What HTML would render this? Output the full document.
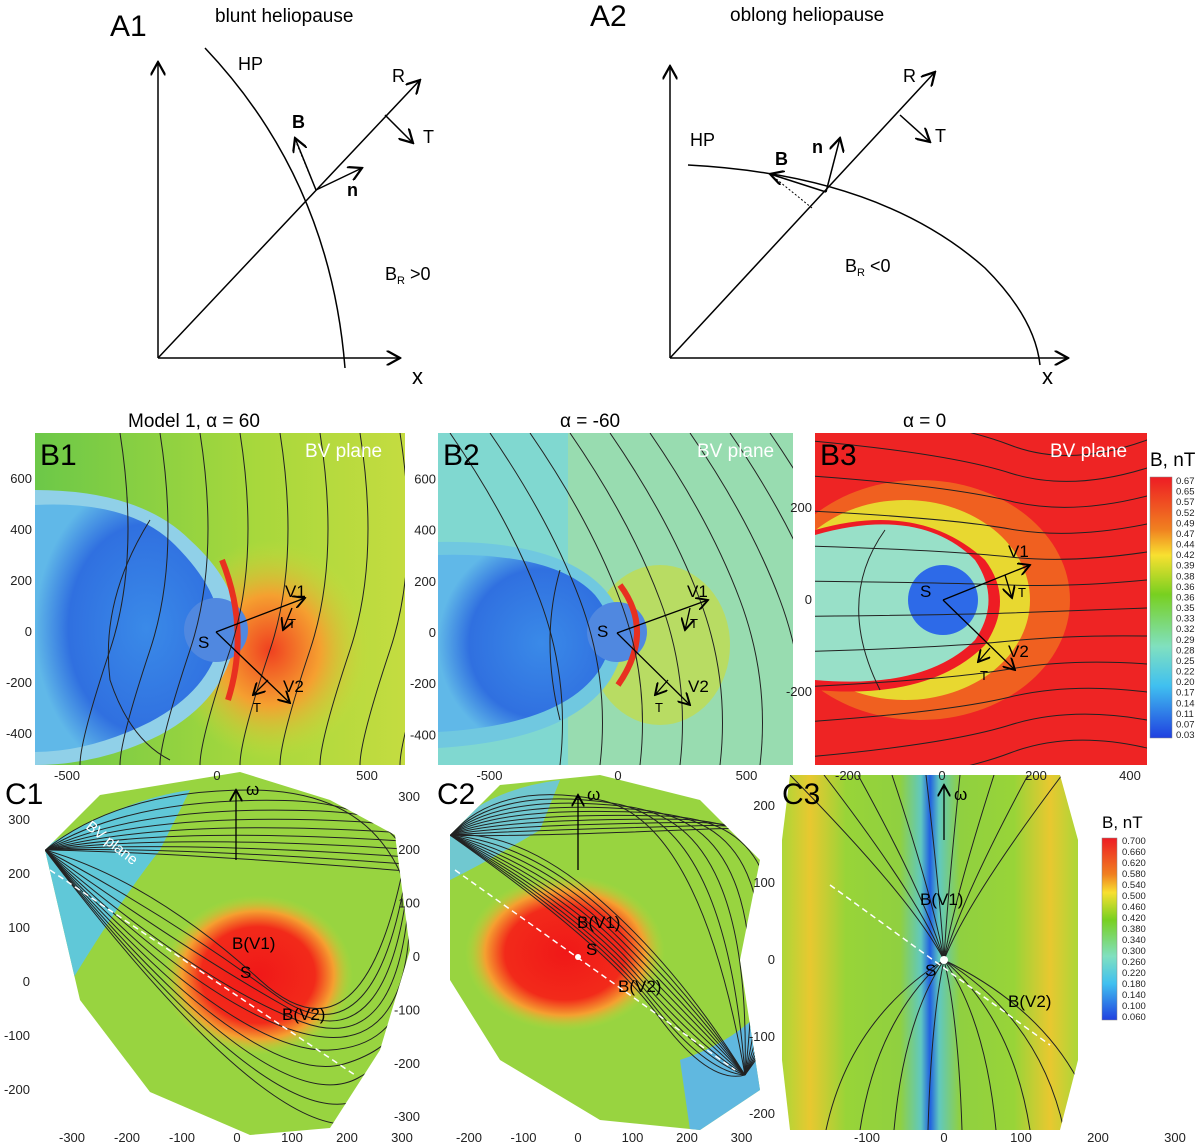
<!DOCTYPE html>
<html><head><meta charset="utf-8"><style>
html,body{margin:0;padding:0;background:#fff;width:1200px;height:1148px;overflow:hidden}
svg{display:block;font-family:"Liberation Sans",sans-serif}
</style></head><body>
<svg id="fig" width="1200" height="1148" viewBox="0 0 1200 1148" xmlns="http://www.w3.org/2000/svg">
<defs>
<marker id="ah" markerWidth="10" markerHeight="10" refX="9" refY="5" orient="auto"><path d="M0,0 L9,5 L0,10" fill="none" stroke="#000" stroke-width="1.5"/></marker>
<radialGradient id="b1hot" cx="0.5" cy="0.5" r="0.5"><stop offset="0" stop-color="#f04020"/><stop offset="0.5" stop-color="#f5a030"/><stop offset="1" stop-color="#c8dc3a" stop-opacity="0"/></radialGradient>
<radialGradient id="cred" cx="0.5" cy="0.5" r="0.5"><stop offset="0" stop-color="#f01818"/><stop offset="0.6" stop-color="#f22a1a"/><stop offset="0.8" stop-color="#f5a030"/><stop offset="1" stop-color="#b8d838" stop-opacity="0"/></radialGradient>
<linearGradient id="b1bg" x1="0" y1="0" x2="1" y2="0"><stop offset="0" stop-color="#6cc848"/><stop offset="0.6" stop-color="#a8d83c"/><stop offset="1" stop-color="#c4dc40"/></linearGradient>
<radialGradient id="blueblob" cx="0.6" cy="0.5" r="0.6"><stop offset="0" stop-color="#3a8ae8"/><stop offset="0.7" stop-color="#3070e0"/><stop offset="1" stop-color="#60b8e8"/></radialGradient>
<linearGradient id="cbar1" x1="0" y1="0" x2="0" y2="1"><stop offset="0" stop-color="#ee1c24"/><stop offset="0.2" stop-color="#f08020"/><stop offset="0.3" stop-color="#f8e030"/><stop offset="0.45" stop-color="#78d020"/><stop offset="0.65" stop-color="#80e0c0"/><stop offset="0.8" stop-color="#40c0f0"/><stop offset="1" stop-color="#2040e0"/></linearGradient>
<linearGradient id="c3bg" x1="0" y1="0" x2="1" y2="0"><stop offset="0" stop-color="#a8d838"/><stop offset="0.1" stop-color="#e8c830"/><stop offset="0.22" stop-color="#98d438"/><stop offset="0.4" stop-color="#90d040"/><stop offset="0.47" stop-color="#60c8c0"/><stop offset="0.5" stop-color="#2060e0"/><stop offset="0.53" stop-color="#60c8c0"/><stop offset="0.6" stop-color="#90d040"/><stop offset="0.78" stop-color="#98d438"/><stop offset="0.9" stop-color="#e8c830"/><stop offset="1" stop-color="#a8d838"/></linearGradient>
<clipPath id="cb1"><rect x="35" y="433" width="370" height="332"/></clipPath>
<clipPath id="cb2"><rect x="438" y="433" width="355" height="332"/></clipPath>
<clipPath id="cb3"><rect x="815" y="433" width="332" height="332"/></clipPath>
<clipPath id="cc1"><path d="M45,850 L100,795 L240,772 L330,800 L395,835 L410,950 L380,1050 L330,1128 L250,1135 L150,1092 L80,1000 Z"/></clipPath>
<clipPath id="cc2"><path d="M450,835 L500,785 L600,775 L700,800 L760,860 L740,960 L760,1090 L700,1130 L600,1120 L500,1060 L450,980 Z"/></clipPath>
<clipPath id="cc3"><path d="M790,775 L1060,775 L1078,840 L1078,1060 L1060,1130 L790,1130 L782,1060 L782,840 Z"/></clipPath>
</defs>

<g fill="none" stroke="#000" stroke-width="1.5">
<line x1="158" y1="358" x2="158" y2="62" marker-end="url(#ah)"/>
<line x1="158" y1="358" x2="400" y2="358" marker-end="url(#ah)"/>
<path d="M205,48 Q330,180 345,368"/>
<line x1="158" y1="358" x2="420" y2="80" marker-end="url(#ah)"/>
<line x1="385" y1="115" x2="413" y2="143" marker-end="url(#ah)"/>
<line x1="316" y1="190" x2="295" y2="138" marker-end="url(#ah)"/>
<line x1="316" y1="190" x2="362" y2="168" marker-end="url(#ah)"/>
<line x1="316" y1="190" x2="296" y2="142" stroke-dasharray="2,2" stroke-width="1"/>
</g>
<g font-size="18">
<text x="110" y="36" font-size="30">A1</text>
<text x="215" y="22" font-size="19">blunt heliopause</text>
<text x="238" y="70">HP</text><text x="392" y="82">R</text><text x="423" y="143">T</text>
<text x="292" y="128" font-weight="bold">B</text><text x="347" y="196" font-weight="bold">n</text>
<text x="385" y="280">B<tspan font-size="11" dy="4">R</tspan><tspan dy="-4"> &gt;0</tspan></text>
<text x="412" y="384" font-size="22">x</text>
</g>
<g fill="none" stroke="#000" stroke-width="1.5">
<line x1="670" y1="358" x2="670" y2="66" marker-end="url(#ah)"/>
<line x1="670" y1="358" x2="1068" y2="358" marker-end="url(#ah)"/>
<path d="M688,165 Q880,175 985,268 Q1035,318 1040,365"/>
<line x1="670" y1="358" x2="935" y2="72" marker-end="url(#ah)"/>
<line x1="900" y1="115" x2="930" y2="142" marker-end="url(#ah)"/>
<line x1="826" y1="192" x2="840" y2="138" marker-end="url(#ah)"/>
<line x1="826" y1="192" x2="770" y2="174" marker-end="url(#ah)"/>
<line x1="812" y1="208" x2="775" y2="178" stroke-dasharray="2,2" stroke-width="1"/>
</g>
<g font-size="18">
<text x="590" y="26" font-size="30">A2</text>
<text x="730" y="21" font-size="19">oblong heliopause</text>
<text x="690" y="146">HP</text><text x="903" y="82">R</text><text x="935" y="142">T</text>
<text x="775" y="165" font-weight="bold">B</text><text x="812" y="153" font-weight="bold">n</text>
<text x="845" y="272">B<tspan font-size="11" dy="4">R</tspan><tspan dy="-4"> &lt;0</tspan></text>
<text x="1042" y="384" font-size="22">x</text>
</g>

<g clip-path="url(#cb1)">
<rect x="35" y="433" width="370" height="332" fill="url(#b1bg)"/>
<ellipse cx="270" cy="650" rx="100" ry="110" fill="url(#b1hot)"/>
<path d="M35,490 Q140,490 190,540 Q245,590 235,640 Q225,700 160,735 Q100,765 35,765 Z" fill="#90d0e8"/>
<path d="M35,505 Q130,500 175,545 Q225,595 220,640 Q210,690 150,722 Q90,752 35,752 Z" fill="url(#blueblob)"/>
<circle cx="216" cy="630" r="32" fill="#5088e0"/>
<path d="M222,560 Q250,630 228,700" stroke="#e83020" stroke-width="6" fill="none"/>
</g>
<g clip-path="url(#cb2)">
<rect x="438" y="433" width="355" height="332" fill="#98dcb0"/>
<rect x="438" y="433" width="130" height="332" fill="#80d8d0"/>
<ellipse cx="660" cy="645" rx="70" ry="80" fill="#c0dc50" opacity="0.8"/>
<path d="M438,542 Q560,540 605,590 Q640,630 610,680 Q570,740 438,748 Z" fill="#70c8e0"/>
<path d="M438,555 Q555,552 595,595 Q625,632 598,672 Q560,725 438,732 Z" fill="url(#blueblob)"/>
<circle cx="617" cy="632" r="30" fill="#5088e0"/>
<path d="M620,585 Q655,632 618,685" stroke="#e83020" stroke-width="6" fill="none"/>
</g>
<g clip-path="url(#cb3)">
<rect x="815" y="433" width="332" height="332" fill="#ee2424"/>
<ellipse cx="920" cy="600" rx="150" ry="120" fill="#f06020"/>
<ellipse cx="905" cy="600" rx="125" ry="100" fill="#e8d830"/>
<path d="M815,530 Q920,500 985,560 Q1015,600 985,645 Q930,700 815,690 Z" fill="#ee1c24"/>
<path d="M815,535 Q920,505 975,560 Q1002,600 975,640 Q925,690 815,680 Z" fill="#98e0c8"/>
<circle cx="943" cy="600" r="35" fill="#2d6ae8"/>
</g>
<g>
<rect x="1150" y="477" width="22" height="261" fill="url(#cbar1)" stroke="#888" stroke-width="0.5"/>
<text x="1150" y="466" font-size="19">B, nT</text>
<g id="cbB" font-size="9.5" fill="#222"></g>
</g>

<g clip-path="url(#cc1)">
<rect x="35" y="760" width="380" height="380" fill="#98d440"/>
<path d="M40,850 Q120,800 190,790 L160,850 Q120,900 60,1000 Z" fill="#60c8d8"/>
<ellipse cx="258" cy="975" rx="95" ry="80" fill="url(#cred)"/>
</g>
<g clip-path="url(#cc2)">
<rect x="430" y="760" width="340" height="380" fill="#98d440"/>
<path d="M440,840 Q480,790 560,780 L540,830 Q490,860 450,880 Z" fill="#70c8d0"/>
<path d="M680,1060 Q740,1040 770,1000 L770,1140 L690,1130 Z" fill="#60b8e0"/>
<ellipse cx="565" cy="953" rx="100" ry="78" fill="url(#cred)"/>
</g>
<g clip-path="url(#cc3)">
<rect x="780" y="770" width="300" height="365" fill="url(#c3bg)"/>
</g>
<g>
<rect x="1102" y="838" width="15" height="182" fill="url(#cbar1)" stroke="#888" stroke-width="0.5"/>
<text x="1102" y="828" font-size="17">B, nT</text>
<g id="cbC" font-size="9.5" fill="#222"></g>
</g>

<g id="stream" fill="none" stroke="#222" stroke-width="1"></g>
<g id="axes" font-size="13" fill="#222"></g>

<g font-size="30">
<text x="40" y="465">B1</text><text x="443" y="465">B2</text><text x="820" y="465">B3</text>
<text x="5" y="804">C1</text><text x="437" y="804">C2</text><text x="782" y="804">C3</text>
</g>
<g font-size="19">
<text x="128" y="427">Model 1, α = 60</text><text x="560" y="427">α = -60</text><text x="903" y="427">α = 0</text>
<text x="305" y="457" fill="#fff">BV plane</text><text x="697" y="457" fill="#fff">BV plane</text><text x="1050" y="457" fill="#fff">BV plane</text>
</g>
<g fill="none" stroke="#000" stroke-width="1.3">
<line x1="216" y1="632" x2="305" y2="598" marker-end="url(#ah)"/><line x1="216" y1="632" x2="290" y2="703" marker-end="url(#ah)"/>
<line x1="292" y1="608" x2="283" y2="630" marker-end="url(#ah)"/><line x1="268" y1="680" x2="253" y2="695" marker-end="url(#ah)"/>
<line x1="617" y1="633" x2="708" y2="600" marker-end="url(#ah)"/><line x1="617" y1="633" x2="690" y2="705" marker-end="url(#ah)"/>
<line x1="690" y1="608" x2="685" y2="630" marker-end="url(#ah)"/><line x1="668" y1="680" x2="655" y2="695" marker-end="url(#ah)"/>
<line x1="943" y1="600" x2="1030" y2="565" marker-end="url(#ah)"/><line x1="943" y1="600" x2="1015" y2="670" marker-end="url(#ah)"/>
<line x1="1005" y1="575" x2="1012" y2="598" marker-end="url(#ah)"/><line x1="990" y1="648" x2="978" y2="662" marker-end="url(#ah)"/>
<line x1="236" y1="860" x2="236" y2="790" marker-end="url(#ah)"/><line x1="578" y1="870" x2="578" y2="795" marker-end="url(#ah)"/><line x1="944" y1="840" x2="944" y2="785" marker-end="url(#ah)"/>
</g>
<g font-size="17">
<text x="198" y="648">S</text><text x="285" y="597">V1</text><text x="283" y="692">V2</text><text x="288" y="628" font-size="13">T</text><text x="253" y="712" font-size="13">T</text>
<text x="597" y="637">S</text><text x="687" y="597">V1</text><text x="688" y="692">V2</text><text x="690" y="628" font-size="13">T</text><text x="655" y="712" font-size="13">T</text>
<text x="920" y="597">S</text><text x="1008" y="557">V1</text><text x="1008" y="657">V2</text><text x="1018" y="597" font-size="13">T</text><text x="980" y="680" font-size="13">T</text>
<text x="246" y="795">ω</text><text x="587" y="800">ω</text><text x="954" y="800">ω</text>
<text x="232" y="949">B(V1)</text><text x="240" y="978">S</text><text x="282" y="1020">B(V2)</text>
<text x="577" y="928">B(V1)</text><text x="586" y="955">S</text><text x="618" y="992">B(V2)</text>
<text x="920" y="905">B(V1)</text><text x="925" y="976">S</text><text x="1008" y="1007">B(V2)</text>
<text x="85" y="828" fill="#fff" font-size="15" transform="rotate(38 85 828)">BV plane</text>
</g>
<g stroke="#fff" stroke-width="1.5" stroke-dasharray="6,4" fill="none">
<line x1="50" y1="870" x2="355" y2="1075"/><line x1="455" y1="870" x2="735" y2="1070"/><line x1="830" y1="885" x2="1050" y2="1045"/>
</g>
<circle cx="578" cy="957" r="3" fill="#fff"/><circle cx="944" cy="960" r="4" fill="#fff"/>

<script>
const cbBLabels=["0.67","0.65","0.57","0.52","0.49","0.47","0.44","0.42","0.39","0.38","0.36","0.36","0.35","0.33","0.32","0.29","0.28","0.25","0.22","0.20","0.17","0.14","0.11","0.07","0.03"];
const cbCLabels=["0.700","0.660","0.620","0.580","0.540","0.500","0.460","0.420","0.380","0.340","0.300","0.260","0.220","0.180","0.140","0.100","0.060"];
const b1X=[-500,0,500], b1Y=[600,400,200,0,-200,-400];
const b2X=[-500,0,500], b2Y=[600,400,200,0,-200,-400];
const b3X=[-200,0,200,400], b3Y=[200,0,-200];
const c1X=[-300,-200,-100,0,100,200,300], c1Y=[300,200,100,0,-100,-200];
const c2X=[-200,-100,0,100,200,300], c2Y=[300,200,100,0,-100,-200,-300];
const c3X=[-100,0,100,200,300], c3Y=[200,100,0,-100,-200];
const NS="http://www.w3.org/2000/svg";
function mk(tag,attrs,parent){const e=document.createElementNS(NS,tag);for(const k in attrs)e.setAttribute(k,attrs[k]);parent.appendChild(e);return e;}
const cbB=document.getElementById('cbB');
cbBLabels.forEach((l,i)=>{const t=mk('text',{x:1176,y:484+i*(254/(cbBLabels.length-1))},cbB);t.textContent=l;

});
const cbC=document.getElementById('cbC');
cbCLabels.forEach((l,i)=>{const t=mk('text',{x:1122,y:844+i*(176/(cbCLabels.length-1))},cbC);t.textContent=l;

});
const ax=document.getElementById('axes');
function axis(xt,yt,x0,xs,xlY,y0,ys,ylX){
 xt.forEach(v=>{const t=mk('text',{x:x0+v*xs,y:xlY,'text-anchor':'middle'},ax);t.textContent=v;
 
 });
 yt.forEach(v=>{const t=mk('text',{x:ylX,y:y0-v*ys+4,'text-anchor':'end'},ax);t.textContent=v;
 
 });
}
axis(b1X,b1Y,217,0.30,780,632,0.255,32);
axis(b2X,b2Y,618,0.257,780,633,0.256,436);
axis(b3X,b3Y,942,0.47,780,600,0.46,812);
axis(c1X,c1Y,237,0.55,1142,982,0.54,30);
axis(c2X,c2Y,578,0.545,1142,957,0.534,420);
axis(c3X,c3Y,944,0.77,1142,960,0.77,775);
const st=document.getElementById('stream');
function sl(d,clip){const p=mk('path',{d:d,'clip-path':clip},st);

}
for(let i=0;i<9;i++){const x=120+i*40;sl(`M${x},433 Q${x+20},560 ${x-10},650 T${x-40},765`,'url(#cb1)');}
for(let i=0;i<10;i++){const x=450+i*40;sl(`M${x},433 Q${x+60},520 ${x+90},600 T${x+110},765`,'url(#cb2)');}
for(let i=0;i<12;i++){const y=445+i*28;const dy=(y-600)*0.25;sl(`M815,${y+dy} Q950,${y+dy*0.6} 1010,${y} T1147,${y-5}`,'url(#cb3)');}
sl('M150,520 Q100,600 110,680 Q130,740 170,760','url(#cb1)');
sl('M560,570 Q540,640 560,720','url(#cb2)');
sl('M885,530 Q835,600 880,690','url(#cb3)');
for(let i=0;i<10;i++){const e=i*35;sl(`M45,850 Q${150+e*0.5},${880+e} ${260+e*0.4},${980+e*0.4} T${410},${830+e*0.5}`,'url(#cc1)');sl(`M45,850 Q${120+e*0.3},${790+e*0.2} ${250+e},${790+e*0.3} T${410},${900+e}`,'url(#cc1)');}
for(let i=0;i<10;i++){const e=i*32;sl(`M450,835 Q${520+e*0.3},${830+e*0.4} ${600+e*0.2},${900+e*0.4} T745,1075`,'url(#cc2)');sl(`M450,835 Q${500},${780+e*0.2} ${600+e*0.4},${800+e*0.1} T745,1075`,'url(#cc2)');}
for(let i=0;i<9;i++){const x=790+i*34;sl(`M${x},775 Q${x+(944-x)*0.8},900 944,960 Q${944-(x-944)*0.8},1020 ${2*944-x},1130`,'url(#cc3)');}
</script>
</svg>
</body></html>
